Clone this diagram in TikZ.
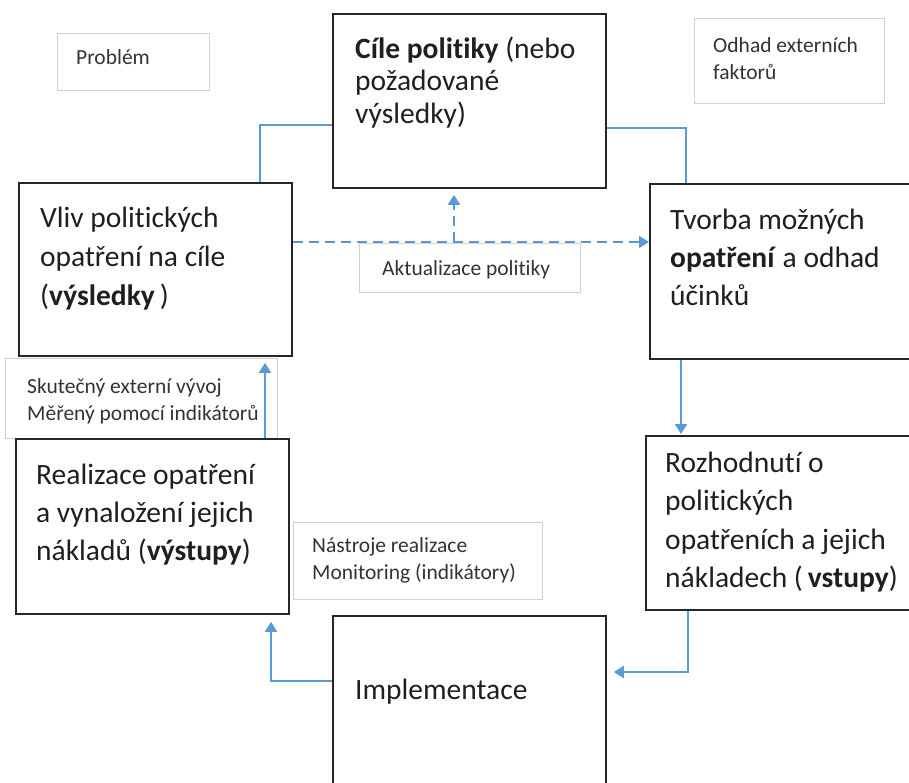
\documentclass[tikz,border=0pt]{standalone}
\usepackage{fontspec}
\setmainfont{Carlito}[Ligatures=NoCommon]
\usetikzlibrary{arrows.meta,calc}
\definecolor{lineblue}{HTML}{5B9BD5}
\definecolor{boxdark}{HTML}{262626}
\definecolor{boxlight}{HTML}{D0D0D0}
\definecolor{txtdark}{HTML}{1F1F1F}
\definecolor{txtsmall}{HTML}{333333}
\newcommand\bigtext[2][39pt]{\parbox[t]{320pt}{\fontsize{29.5pt}{#1}\selectfont #2}}
\newcommand\smalltext[2][27pt]{\parbox[t]{320pt}{\fontsize{21.5pt}{#1}\selectfont #2}}
\begin{document}
\begin{tikzpicture}[x=1pt,y=-1pt,
  darkbox/.style={draw=boxdark,line width=1.8pt,rectangle,inner sep=0pt,anchor=north west,fill=white},
  lightbox/.style={draw=boxlight,line width=1pt,rectangle,inner sep=0pt,anchor=north west,fill=white},
  txt/.style={inner sep=0pt,anchor=base west,text=txtdark},
  stxt/.style={txt,text=txtsmall},
  conn/.style={draw=lineblue,line width=2pt},
  arr/.style={conn,-{Triangle[width=12pt,length=10pt]}},
  darr/.style={arr,dash pattern=on 10pt off 6pt}]
\useasboundingbox (0,0) rectangle (909,782);
% light label boxes
\node[lightbox,minimum width=152pt,minimum height=57pt] (prob) at (57,33) {};
\node[lightbox,minimum width=190pt,minimum height=85pt] (odhad) at (694,18) {};
\node[lightbox,minimum width=221pt,minimum height=49pt] (aktual) at (359,243) {};
\node[lightbox,minimum width=272pt,minimum height=80pt] (skut) at (5,358) {};
\node[lightbox,minimum width=249pt,minimum height=77pt] (nastroje) at (293,522) {};
% main boxes
\node[darkbox,minimum width=273pt,minimum height=174pt] (cile) at (332,13) {};
\node[darkbox,minimum width=273pt,minimum height=173pt] (vliv) at (18,182) {};
\node[darkbox,minimum width=290pt,minimum height=175pt] (tvorba) at (649,183) {};
\node[darkbox,minimum width=273pt,minimum height=175pt] (real) at (15,438) {};
\node[darkbox,minimum width=290pt,minimum height=174pt] (rozh) at (645,435) {};
\node[darkbox,minimum width=273pt,minimum height=220pt] (impl) at (332,615) {};
% texts
\node[stxt] (probT) at (76,64) {\smalltext{Problém}};
\node[stxt] (odhadT) at (713,52) {\smalltext{Odhad externích\\faktorů}};
\node[stxt] (aktualT) at (382,275) {\smalltext{Aktualizace politiky}};
\node[stxt] (skutT) at (27,393) {\smalltext{Skutečný externí vývoj\\Měřený pomocí indikátorů}};
\node[stxt] (nastrojeT) at (312,552) {\smalltext{Nástroje realizace\\Monitoring (indikátory)}};
\node[txt] (cileT) at (355,58) {\bigtext[32.5pt]{\textbf{Cíle politiky} (nebo\\požadované\\výsledky)}};
\node[txt] (vlivT) at (40,227) {\bigtext{Vliv politických\\opatření na cíle\\(\textbf{výsledky}\,)}};
\node[txt] (tvorbaT) at (670,229) {\bigtext[38pt]{Tvorba možných\\\textbf{opatření} a odhad\\účinků}};
\node[txt] (realT) at (36,484) {\bigtext[38pt]{Realizace opatření\\a vynaložení jejich\\nákladů (\textbf{výstupy})}};
\node[txt] (rozhT) at (665,472) {\bigtext[38.5pt]{Rozhodnutí o\\politických\\opatřeních a jejich\\nákladech (\,\textbf{vstupy})}};
\node[txt] (implT) at (355,699) {\bigtext{Implementace}};
% connectors
\draw[conn] ([xshift=242pt]vliv.north west) |- ([yshift=-112pt]cile.north west);
\draw[conn] ([yshift=-115pt]cile.north east) -| ([xshift=37pt]tvorba.north west);
\draw[arr,shorten >=1pt] ([xshift=32pt]tvorba.south west) -- ([xshift=32pt]tvorba.south west |- rozh.north);
\draw[arr,shorten >=7pt] ([xshift=43pt]rozh.south west) |- ([yshift=-57pt]impl.north east);
\draw[arr,shorten >=7pt] ([yshift=-66pt]impl.north west) -| ([xshift=256pt]real.south west);
\draw[arr,shorten >=6pt] ([xshift=250pt]real.north west) -- ([xshift=247pt]vliv.south west);
\draw[darr] ([yshift=-60pt]vliv.north east) -- ([yshift=-59pt]tvorba.north west);
\coordinate (br) at (454,242);
\draw[darr,shorten >=6pt] (br) -- (br |- cile.south);
\end{tikzpicture}
\end{document}
